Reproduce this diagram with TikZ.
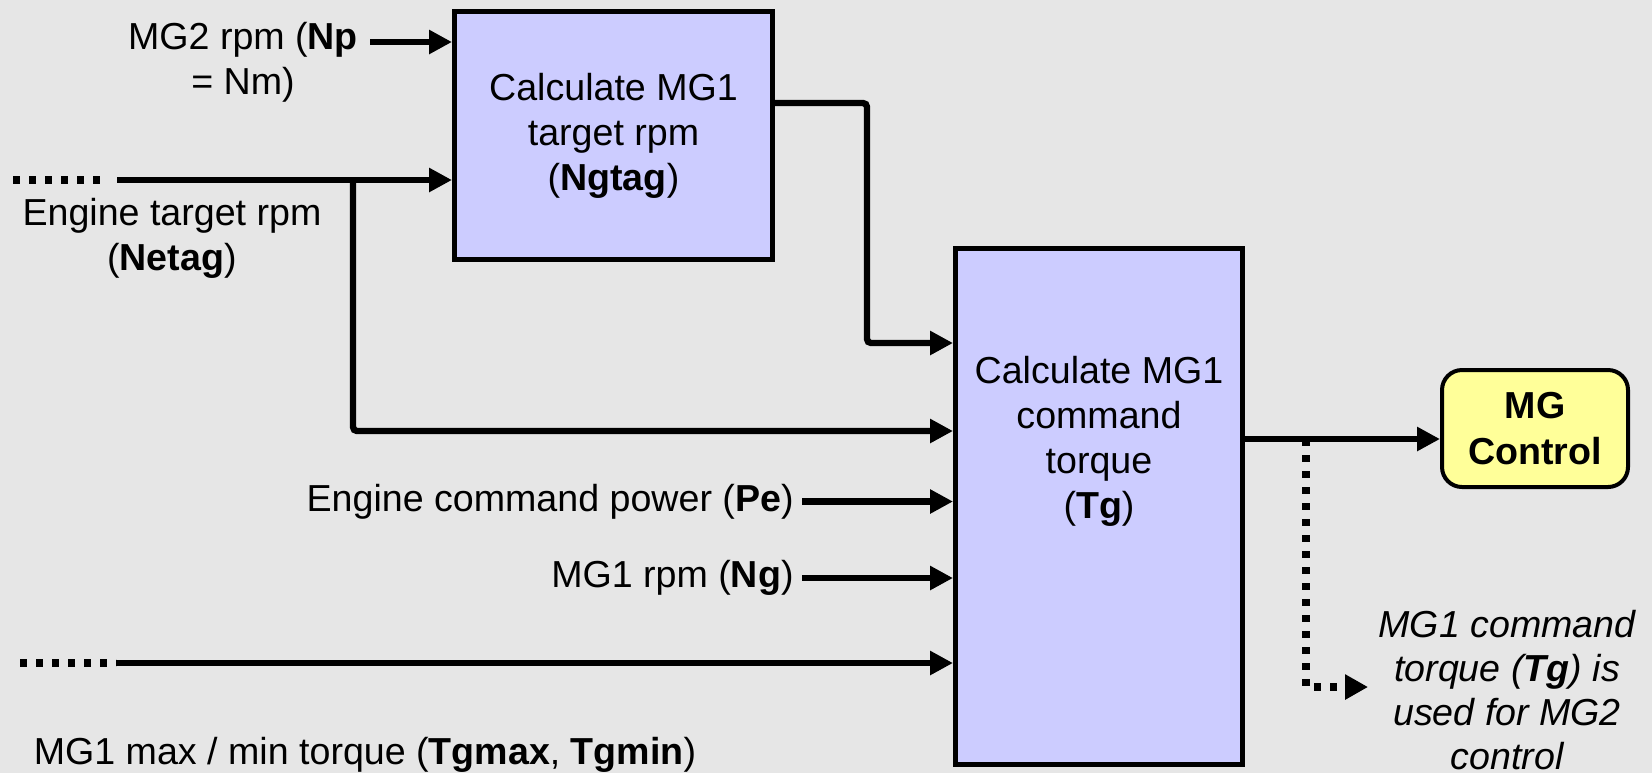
\documentclass[tikz,border=0pt]{standalone}
\usepackage{fontspec}
\setmainfont{Liberation Sans}
\usetikzlibrary{arrows.meta,positioning}

\definecolor{bggray}{HTML}{E6E6E6}
\definecolor{boxblue}{HTML}{CCCCFF}
\definecolor{ctrlyellow}{HTML}{FFFF99}

\begin{document}
\begin{tikzpicture}[
    x=0.5pt, y=-0.5pt,
    every node/.style={font=\fontsize{18.8}{22.5}\selectfont, align=center, inner sep=0pt},
    process/.style={draw, line width=2.5pt, fill=boxblue},
    control/.style={draw, line width=2pt, rounded corners=10pt, fill=ctrlyellow,
        font=\fontsize{18.8}{23}\selectfont\bfseries},
    flow/.style={line width=3.2pt, -{Triangle[length=11.5pt,width=11.5pt]}},
    dots/.style={line width=4pt, dash pattern=on 3.7pt off 4.3pt}
]

% background and page size
\fill[bggray] (0,0) rectangle (1652,773);
\useasboundingbox (0,0) rectangle (1652,773);

% blocks
\node[process, minimum width=159pt, minimum height=124pt] (target) at (613.5,135.5)
    {Calculate MG1\\target rpm\\(\textbf{Ngtag})};
\node[process, minimum width=143.5pt, minimum height=258pt] (torque) at (1099,506.5) {};
\node (torquetext) at (1099,441) {Calculate MG1\\command\\torque\\(\textbf{Tg})};
\node[control, minimum width=93pt, minimum height=58.5pt] (control) at (1535,428.5)
    {MG\\Control};

% input labels
\node (np) at (243,62) {MG2 rpm (\textbf{Np}\\= Nm)};
\node (netag) at (172,238) {Engine target rpm\\(\textbf{Netag})};
\node[anchor=east] (pe) at (794,501.5) {Engine command power (\textbf{Pe})};
\node[anchor=east] (ng) at (794,578) {MG1 rpm (\textbf{Ng})};
\node (tglimit) at (365,755) {MG1 max / min torque (\textbf{Tgmax}, \textbf{Tgmin})};
\node[font=\fontsize{18.8}{22}\selectfont\itshape] (note) at (1507,690)
    {MG1 command\\torque (\textbf{Tg}) is\\used for MG2\\control};

% free ends
\coordinate (npin) at (370,42);
\coordinate (netagdots) at (13,180);
\coordinate (netagin) at (117,180);
\coordinate (netagsplit) at (353,180);
\coordinate (tgdots) at (20,663);
\coordinate (tgin) at (116,663);
\coordinate (tgsplit) at (1306,439);

% connectors
\draw[flow] (npin) -- (npin -| target.west);
\draw[dots] (netagdots) -- (101,180);
\draw[flow] (netagin) -- (netagin -| target.west);
\draw[flow, rounded corners=2pt] (netagsplit) |- (torque.west |- 0,431);
\draw[flow, rounded corners=2pt] (target.east |- 0,103) -| (867,343) -- (torque.west |- 0,343);
\draw[flow] ([xshift=4pt]pe.east) -- (pe.east -| torque.west);
\draw[flow] ([xshift=4pt]ng.east) -- (ng.east -| torque.west);
\draw[dots] (tgdots) -- (tgin);
\draw[flow] (tgin) -- (tgin -| torque.west);
\draw[flow] (torque.east |- tgsplit) -- (control.west |- tgsplit);
\draw[dots, -{Triangle[length=11.5pt,width=12pt]}] (tgsplit) |- (1368,687);

\end{tikzpicture}
\end{document}
